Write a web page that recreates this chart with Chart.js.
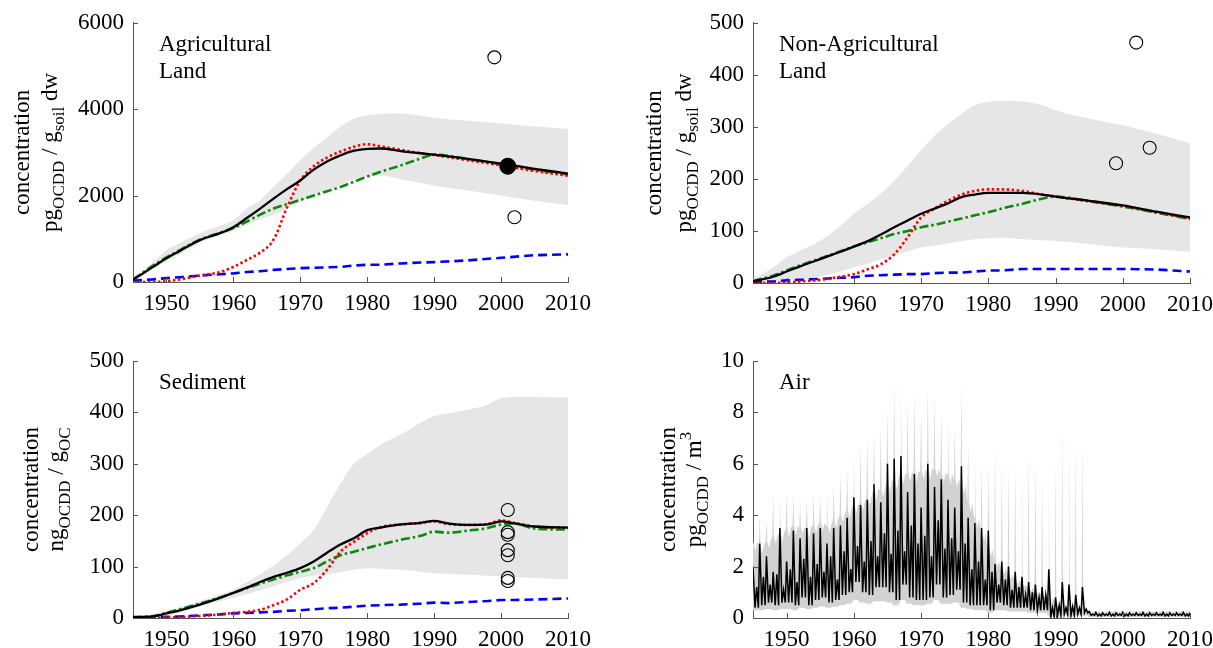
<!DOCTYPE html>
<html><head><meta charset="utf-8">
<script src="https://cdn.jsdelivr.net/npm/chart.js@4"></script>
<style>
html,body{margin:0;padding:0;background:#fff;width:1213px;height:648px;overflow:hidden;position:relative;}
canvas{position:absolute;}
</style></head><body>
<canvas id="c1" width="600" height="320" style="left:0px;top:0px"></canvas>
<canvas id="c2" width="620" height="320" style="left:606px;top:0px"></canvas>
<canvas id="c3" width="600" height="318" style="left:0px;top:330px"></canvas>
<canvas id="c4" width="620" height="318" style="left:606px;top:330px"></canvas>
<script>
// ---------- tick labels ----------
const xTicks = [1950, 1960, 1970, 1980, 1990, 2000, 2010];
const agriYTicks = [0, 2000, 4000, 6000];
const nonAgYTicks = [0, 100, 200, 300, 400, 500];
const sedYTicks = [0, 100, 200, 300, 400, 500];
const airYTicks = [0, 2, 4, 6, 8, 10];

// ---------- Agricultural land ----------
const agriX = [1945,1948,1950,1952,1955,1958,1960,1962,1964,1966,1968,1970,1972,1974,1976,1978,1980,1982,1985,1988,1990,1995,2000,2005,2010];
const agriBlack = [50,350,550,720,970,1130,1270,1480,1700,1930,2150,2350,2600,2790,2930,3040,3080,3090,3030,2980,2950,2850,2740,2620,2510];
const agriRed = [0,0,20,60,150,230,350,510,680,980,1720,2350,2680,2880,3020,3130,3190,3140,3060,2980,2940,2820,2700,2570,2460];
const agriGreen = [60,380,570,740,980,1140,1250,1400,1560,1700,1800,1900,2000,2100,2200,2320,2440,2550,2700,2860,2950,2850,2720,2600,2490];
const agriBlue = [30,60,90,110,150,180,200,230,250,280,300,320,330,340,350,380,400,400,430,450,460,500,560,620,640];
const agriUpper = [50,450,740,900,1130,1300,1430,1700,1900,2200,2500,2820,3100,3350,3600,3780,3860,3890,3900,3850,3800,3730,3670,3600,3550];
const agriLower = [0,300,480,650,900,1080,1180,1320,1450,1560,1700,1860,2000,2120,2250,2380,2440,2460,2380,2290,2230,2120,2000,1880,1780];
const agriObsX = [1999, 2002];
const agriObsY = [5200, 1500];
const agriMeanX = [2001];
const agriMeanY = [2680];

// ---------- Non-agricultural land ----------
const nonAgX = [1945,1948,1950,1952,1955,1958,1960,1962,1964,1966,1968,1970,1972,1974,1976,1978,1980,1982,1985,1988,1990,1995,2000,2005,2010];
const nonAgBlack = [3,12,22,32,46,60,70,80,93,107,120,133,143,153,165,170,173,173,173,170,166,158,149,137,126];
const nonAgRed = [0,0,1,3,6,12,17,26,36,55,88,126,143,158,170,177,180,180,177,170,166,157,148,136,124];
const nonAgGreen = [4,14,24,34,47,61,70,78,86,94,100,107,112,118,124,130,136,143,152,162,166,157,147,135,123];
const nonAgBlue = [2,3,5,6,8,10,11,14,15,16,17,17,19,20,20,22,24,24,27,27,27,27,27,26,22];
const nonAgUpper = [8,30,49,62,81,110,133,152,172,197,225,255,283,305,325,342,348,350,349,342,332,316,303,287,268];
const nonAgLower = [0,2,4,7,13,22,30,37,45,53,61,68,72,76,80,84,86,87,84,82,81,75,68,65,60];
const nonAgObsX = [1999, 2002, 2004];
const nonAgObsY = [230, 462, 260];

// ---------- Sediment ----------
const sedX = [1945,1948,1950,1952,1955,1958,1960,1962,1964,1966,1968,1970,1972,1974,1976,1978,1980,1982,1985,1988,1990,1992,1995,1998,2000,2002,2005,2010];
const sedBlack = [2,3,9,15,26,39,49,59,70,80,88,97,110,127,143,155,171,176,182,185,189,184,181,182,188,184,178,176];
const sedRed = [0,0,1,2,4,7,10,12,16,25,36,55,68,94,129,148,165,177,182,185,188,183,181,183,190,185,178,176];
const sedGreen = [1,4,10,17,28,40,49,58,67,75,83,90,97,110,122,129,136,143,152,160,168,166,170,175,182,184,174,172];
const sedBlue = [0,0,2,3,5,7,9,10,11,12,14,15,17,19,20,22,24,25,26,28,30,29,31,33,35,35,36,38];
const sedUpper = [2,6,13,20,33,45,55,70,85,102,122,145,171,216,261,300,319,337,357,380,393,398,405,415,428,430,430,429];
const sedLower = [0,1,4,10,23,33,39,46,54,62,70,78,82,85,89,94,97,96,94,90,87,86,84,82,81,80,78,75];
const sedObsX = [2001, 2001, 2001, 2001, 2001, 2001, 2001];
const sedObsY = [210, 167, 162, 132, 122, 78, 72];

// ---------- Air (per year: winter peak, trough, secondary peak; 1945-2010) ----------
const airYears = [1945,1946,1947,1948,1949,1950,1951,1952,1953,1954,1955,1956,1957,1958,1959,1960,1961,1962,1963,1964,1965,1966,1967,1968,1969,1970,1971,1972,1973,1974,1975,1976,1977,1978,1979,1980,1981,1982,1983,1984,1985,1986,1987,1988,1989,1990,1991,1992,1993,1994,1995,1996,1997,1998,1999,2000,2001,2002,2003,2004,2005,2006,2007,2008,2009,2010];
const airPeak = [2.0,2.9,2.4,1.8,3.5,2.2,3.4,3.1,3.5,3.3, 3.5,2.9,3.5,3.6,3.9,4.7,4.4,4.6,5.2,4.5, 6.0,6.2,6.3,4.9,5.6,4.3,6.0,5.1,5.4,4.6, 4.3,5.9,3.9,3.7,3.5,3.4,2.1,2.2,2.0,1.8, 1.6,1.4,1.3,1.2,1.9,0.8,1.4,1.3,0.9,1.2, 0.25,0.22,0.2,0.22,0.2,0.22,0.2,0.2,0.22,0.2, 0.2,0.22,0.2,0.2,0.22,0.2];
const airTrough = [0.4,0.5,0.6,0.5,0.6,0.6,0.5,0.8,0.5,0.7, 0.8,0.6,0.7,0.9,1.0,1.4,1.0,0.9,1.2,1.2, 1.0,0.7,1.3,0.8,0.7,0.7,0.8,1.3,0.8,0.9, 1.1,0.6,0.5,0.5,0.5,0.3,0.6,0.5,0.4,0.4, 0.4,0.3,0.3,0.3,0.05,0.1,0.15,0.1,0.15,0.2, 0.1,0.08,0.1,0.08,0.1,0.08,0.1,0.1,0.08,0.1, 0.1,0.08,0.1,0.1,0.08,0.1];
const airMid = [1.2,1.6,1.3,1.7,1.1,1.9,1.4,2.3,1.6,2.1, 1.8,2.4,1.5,2.6,1.9,2.8,2.2,3.0,2.4,3.3, 2.5,3.4,2.6,3.6,2.9,3.2,2.4,3.8,2.7,3.1, 2.6,2.9,1.9,2.2,1.5,1.8,1.3,1.5,1.1,1.2, 0.9,1.0,0.8,0.9,0.4,0.5,0.4,0.45,0.4,0.35, 0.15,0.15,0.15,0.15,0.15,0.15,0.15,0.15,0.15,0.15, 0.15,0.15,0.15,0.15,0.15,0.15];
const airUpperPeak = [3.0,4.0,3.8,4.8,4.8,4.9,4.8,4.5,4.6,4.8, 4.7,5.0,5.2,5.6,5.8,6.5,6.7,7.0,7.2,7.5, 8.2,9.3,9.2,8.4,8.8,8.0,9.0,8.6,8.0,7.8, 7.4,9.2,6.8,6.3,6.0,6.0,6.7,6.0,5.8,6.0, 6.1,6.5,6.2,5.5,5.5,6.0,7.5,7.7,6.8,7.0, 0.3,0.3,0.28,0.3,0.28,0.3,0.28,0.3,0.28,0.3, 0.28,0.3,0.28,0.3,0.28,0.3];
const airUpperBase = [3.0,2.8,3.0,3.2,3.3,3.5,3.6,3.5,3.5,3.6, 3.7,3.6,3.8,4.0,4.2,4.4,4.5,4.7,5.0,5.0, 5.3,5.4,5.6,5.6,5.7,5.7,5.8,5.8,5.6,5.6, 5.4,5.2,4.5,3.9,3.3,2.7,2.2,1.9,1.7,1.5, 1.3,1.2,1.0,0.9,0.8,0.5,0.45,0.4,0.35,0.3, 0.25,0.25,0.25,0.25,0.25,0.25,0.25,0.25,0.25,0.25, 0.25,0.25,0.25,0.25,0.25,0.25];
const airUpperMid = [2.6,2.5,2.7,2.9,3.0,3.1,3.2,3.3,3.1,3.3, 3.4,3.3,3.5,3.7,3.9,4.1,4.2,4.4,4.6,4.7, 4.9,5.0,5.2,5.3,5.3,5.4,5.4,5.5,5.3,5.2, 5.1,4.8,4.1,3.5,3.0,2.4,2.0,1.7,1.5,1.3, 1.2,1.0,0.9,0.8,0.6,0.45,0.4,0.35,0.3,0.28, 0.22,0.22,0.22,0.22,0.22,0.22,0.22,0.22,0.22,0.22, 0.22,0.22,0.22,0.22,0.22,0.22];
const airLower = [0.3,0.3,0.35,0.3,0.35,0.35,0.3,0.4,0.35,0.4, 0.45,0.4,0.45,0.5,0.55,0.7,0.6,0.55,0.65,0.65, 0.6,0.5,0.7,0.55,0.5,0.5,0.55,0.7,0.55,0.55, 0.6,0.4,0.35,0.3,0.3,0.2,0.3,0.3,0.25,0.25, 0.25,0.2,0.2,0.2,0.05,0.05,0.1,0.05,0.1,0.1, 0.05,0.05,0.05,0.05,0.05,0.05,0.05,0.05,0.05,0.05, 0.05,0.05,0.05,0.05,0.05,0.05];

// ---------- styling ----------
const FONT = '"Liberation Serif", "Times New Roman", Times, serif';
const AXIS_COLOR = '#555555';
Chart.defaults.font.family = FONT;
Chart.defaults.font.size = 23;
Chart.defaults.color = '#000000';

function pts(xs, ys) { return xs.map((x, i) => ({ x: x, y: ys[i] })); }

function airLinePoints() {
  const out = [];
  airYears.forEach((yr, i) => {
    out.push({ x: yr, y: airPeak[i] });
    out.push({ x: yr + 0.3, y: airTrough[i] });
    out.push({ x: yr + 0.55, y: airMid[i] });
    out.push({ x: yr + 0.8, y: airTrough[i] });
  });
  return out;
}
function airBandPoints(which) {
  const out = [];
  airYears.forEach((yr, i) => {
    if (which === 'upper') {
      out.push({ x: yr - 0.12, y: airUpperBase[i] });
      out.push({ x: yr, y: airUpperPeak[i] });
      out.push({ x: yr + 0.12, y: airUpperBase[i] });
      out.push({ x: yr + 0.4, y: airUpperMid[i] });
      out.push({ x: yr + 0.6, y: airUpperBase[i] });
    } else {
      out.push({ x: yr - 0.12, y: airLower[i] });
      out.push({ x: yr, y: airLower[i] });
      out.push({ x: yr + 0.12, y: airLower[i] });
      out.push({ x: yr + 0.4, y: airLower[i] });
      out.push({ x: yr + 0.6, y: airLower[i] });
    }
  });
  return out;
}

const decoPlugin = {
  id: 'deco',
  afterDraw(chart, args, opts) {
    const ctx = chart.ctx, a = chart.chartArea;
    const xs = chart.scales.x, ys = chart.scales.y;
    ctx.save();
    ctx.strokeStyle = AXIS_COLOR; ctx.lineWidth = 1;
    ctx.beginPath();
    xs.ticks.forEach(t => { const px = Math.round(xs.getPixelForValue(t.value)) + 0.5; ctx.moveTo(px, a.bottom); ctx.lineTo(px, a.bottom - 5); });
    ys.ticks.forEach(t => { const py = Math.round(ys.getPixelForValue(t.value)) + 0.5; ctx.moveTo(a.left, py); ctx.lineTo(a.left + 5, py); });
    ctx.stroke();
    ctx.fillStyle = '#000';
    ctx.textAlign = 'left'; ctx.textBaseline = 'alphabetic';
    ctx.font = '23px ' + FONT;
    opts.label.forEach((s, i) => ctx.fillText(s, a.left + 26, a.top + 28 + i * 27));
    const cy = (a.top + a.bottom) / 2;
    const fontFor = seg => (seg.sub || seg.sup) ? '17px ' + FONT : '23px ' + FONT;
    opts.ytitle.forEach((line, li) => {
      let w = 0;
      const widths = line.map(seg => { ctx.font = fontFor(seg); const m = ctx.measureText(seg.t).width; w += m; return m; });
      ctx.save();
      ctx.translate(opts.tx[li], cy);
      ctx.rotate(-Math.PI / 2);
      let x = -w / 2;
      line.forEach((seg, k) => {
        ctx.font = fontFor(seg);
        ctx.fillText(seg.t, x, seg.sub ? 7 : (seg.sup ? -10 : 0));
        x += widths[k];
      });
      ctx.restore();
    });
    ctx.restore();
  }
};

function lineDs(data, color, dash, width, smooth) {
  return { data: data, borderColor: color, backgroundColor: color, borderWidth: width, borderDash: dash,
    pointRadius: 0, fill: false, cubicInterpolationMode: smooth ? 'monotone' : 'default', tension: 0, borderCapStyle: 'butt' };
}

function makeChart(id, cfg) {
  const datasets = [];
  if (cfg.obs) datasets.push({ data: cfg.obs, showLine: false, pointRadius: 6.5, pointBorderWidth: 1.1,
    pointBorderColor: '#000', pointBackgroundColor: 'rgba(0,0,0,0)', borderColor: '#000', fill: false });
  if (cfg.mean) datasets.push({ data: cfg.mean, showLine: false, pointRadius: 8, pointBorderWidth: 1,
    pointBorderColor: '#000', pointBackgroundColor: '#000', borderColor: '#000', fill: false });
  cfg.lines.forEach(l => datasets.push(l));
  const bandIdx = datasets.length;
  const bandMode = cfg.smoothBand ? 'monotone' : 'default';
  datasets.push({ data: cfg.upper, borderWidth: 0, borderColor: 'rgba(0,0,0,0)', pointRadius: 0,
    backgroundColor: cfg.bandColor, fill: { target: bandIdx + 1 }, tension: 0, cubicInterpolationMode: bandMode });
  datasets.push({ data: cfg.lower, borderWidth: 0, borderColor: 'rgba(0,0,0,0)', pointRadius: 0,
    backgroundColor: cfg.bandColor, fill: false, tension: 0, cubicInterpolationMode: bandMode });

  return new Chart(document.getElementById(id), {
    type: 'line',
    data: { datasets: datasets },
    plugins: [decoPlugin],
    options: {
      responsive: false, animation: false, devicePixelRatio: 1,
      layout: { padding: { top: cfg.padTop, right: cfg.padRight, left: 0, bottom: 0 } },
      plugins: { legend: { display: false }, tooltip: { enabled: false },
        deco: { label: cfg.label, ytitle: cfg.ytitle, tx: cfg.tx } },
      scales: {
        x: { type: 'linear', min: 1945, max: 2010,
          afterBuildTicks: s => { s.ticks = xTicks.map(v => ({ value: v })); },
          afterFit: s => { s.height = cfg.xH; },
          grid: { display: false, drawTicks: false },
          border: { display: true, color: AXIS_COLOR, width: 1 },
          ticks: { padding: 8, maxRotation: 0, autoSkip: false, color: '#000', font: { size: 23 },
            callback: v => String(v) } },
        y: { type: 'linear', min: cfg.yTicks[0], max: cfg.yTicks[cfg.yTicks.length - 1],
          afterBuildTicks: s => { s.ticks = cfg.yTicks.map(v => ({ value: v })); },
          afterFit: s => { s.width = cfg.yW; },
          grid: { display: false, drawTicks: false },
          border: { display: true, color: AXIS_COLOR, width: 1 },
          ticks: { padding: 9, autoSkip: false, color: '#000', font: { size: 23 }, callback: v => String(v) } }
      }
    }
  });
}

const RED = '#ff0000', GREEN = '#0a8a0a', BLUE = '#0000ff';
const DOT = [2.5, 2.5], DASHDOT = [9, 3, 2.5, 3], DASH = [9, 5];

function stdLines(xs, black, red, green, blue) {
  return [
    lineDs(pts(xs, black), '#000000', [], 2.3, true),
    lineDs(pts(xs, red), RED, DOT, 2.6, true),
    lineDs(pts(xs, green), GREEN, DASHDOT, 2.6, true),
    lineDs(pts(xs, blue), BLUE, DASH, 2.6, false)
  ];
}

makeChart('c1', {
  padTop: 22, padRight: 32, yW: 133, xH: 38, yTicks: agriYTicks,
  label: ['Agricultural', 'Land'], tx: [29, 57],
  ytitle: [[{ t: 'concentration' }], [{ t: 'pg' }, { t: 'OCDD', sub: true }, { t: ' / g' }, { t: 'soil', sub: true }, { t: ' dw' }]],
  obs: pts(agriObsX, agriObsY), mean: pts(agriMeanX, agriMeanY),
  lines: stdLines(agriX, agriBlack, agriRed, agriGreen, agriBlue),
  upper: pts(agriX, agriUpper), lower: pts(agriX, agriLower), bandColor: '#e6e6e6', smoothBand: true
});

makeChart('c2', {
  padTop: 22, padRight: 36, yW: 147, xH: 37, yTicks: nonAgYTicks,
  label: ['Non-Agricultural', 'Land'], tx: [55, 85],
  ytitle: [[{ t: 'concentration' }], [{ t: 'pg' }, { t: 'OCDD', sub: true }, { t: ' / g' }, { t: 'soil', sub: true }, { t: ' dw' }]],
  obs: pts(nonAgObsX, nonAgObsY),
  lines: stdLines(nonAgX, nonAgBlack, nonAgRed, nonAgGreen, nonAgBlue),
  upper: pts(nonAgX, nonAgUpper), lower: pts(nonAgX, nonAgLower), bandColor: '#e6e6e6', smoothBand: true
});

makeChart('c3', {
  padTop: 31, padRight: 32, yW: 133, xH: 30, yTicks: sedYTicks,
  label: ['Sediment'], tx: [38, 63],
  ytitle: [[{ t: 'concentration' }], [{ t: 'ng' }, { t: 'OCDD', sub: true }, { t: ' / g' }, { t: 'OC', sub: true }]],
  obs: pts(sedObsX, sedObsY),
  lines: stdLines(sedX, sedBlack, sedRed, sedGreen, sedBlue),
  upper: pts(sedX, sedUpper), lower: pts(sedX, sedLower), bandColor: '#e6e6e6', smoothBand: true
});

makeChart('c4', {
  padTop: 31, padRight: 36, yW: 147, xH: 30, yTicks: airYTicks,
  label: ['Air'], tx: [69, 95],
  ytitle: [[{ t: 'concentration' }], [{ t: 'pg' }, { t: 'OCDD', sub: true }, { t: ' / m' }, { t: '3', sup: true }]],
  lines: [lineDs(airLinePoints(), '#000000', [], 1.5, false)],
  upper: airBandPoints('upper'), lower: airBandPoints('lower'), bandColor: '#d2d2d2', smoothBand: false
});
</script>
</body></html>
